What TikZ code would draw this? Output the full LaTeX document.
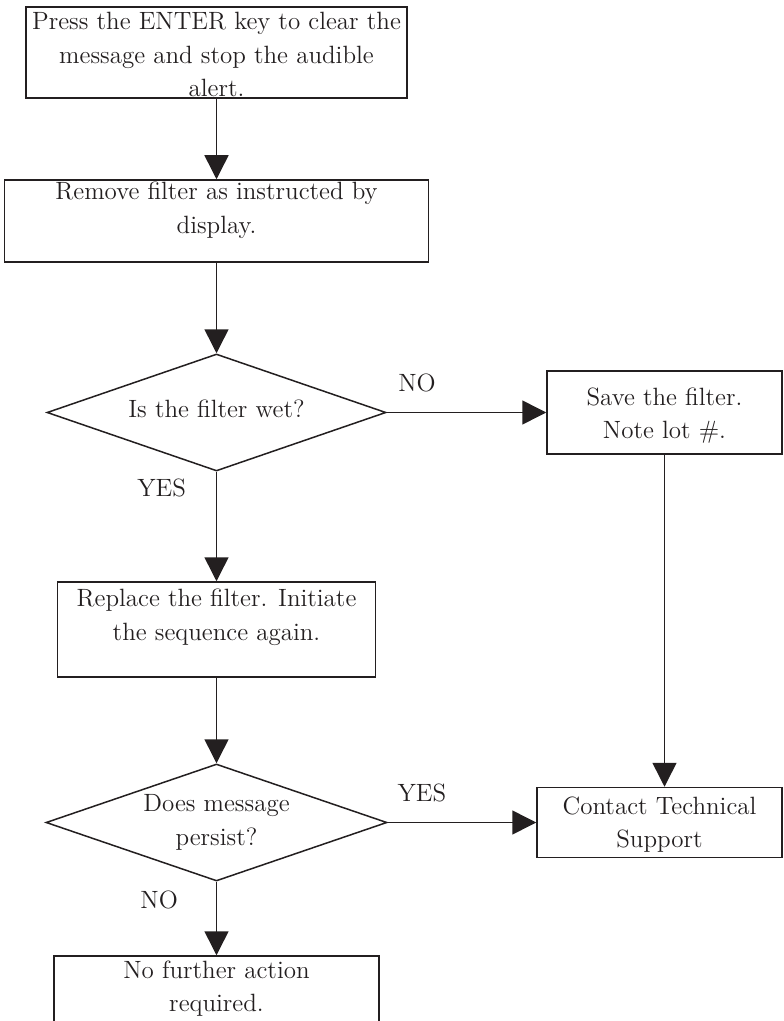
\documentclass[tikz,border=0pt]{standalone}
\usepackage{tikz}
\usetikzlibrary{arrows.meta,shapes.geometric}
\definecolor{ink}{RGB}{35,31,32}

\begin{document}
\begin{tikzpicture}[->,>={Triangle[length=12pt,width=12pt]},x=0.5pt,y=-0.5pt,line width=0.75pt,color=ink,font=\fontsize{12.5pt}{16.75pt}\selectfont]
		\tikzstyle{block}=[rectangle,draw=ink,fill=white,align=center,inner sep=0pt]
		\tikzstyle{decision}=[diamond,draw=ink,fill=white,align=center,inner sep=0pt,shape aspect=2.9,minimum width=169.5pt,minimum height=58.5pt]
		\path[use as bounding box,fill=white] (0,0) rectangle (783,1021);
		\node[block,minimum width=190.5pt,text height=44.85pt,text depth=0.65pt] (press) at (216.5,52.5) {Press the ENTER key to clear the\\message and stop the audible\\alert.};
		\node[block,minimum width=212pt,text height=26.75pt,text depth=14.25pt] (remove) [node distance=84.25pt,below of=press] {Remove filter as instructed by\\display.};
		\node[decision,text height=8pt,text depth=3pt] (wet) [node distance=95.75pt,below of=remove] {Is the filter wet?};
		\node[block,minimum width=117.5pt,text height=33.75pt,text depth=7.75pt] (save) [node distance=224pt,right of=wet] {Save the filter.\\Note lot \#.};
		\node[block,minimum width=159pt,text height=29pt,text depth=18.5pt] (replace) [node distance=108.5pt,below of=wet] {Replace the filter. Initiate\\the sequence again.};
		\node[decision,minimum width=170.5pt] (persist) [node distance=96.5pt,below of=replace] {Does message\\persist?};
		\node[block,minimum width=122.5pt,text height=30pt,text depth=5pt] (contact) [node distance=221.5pt,right of=persist] {Contact Technical\\Support};
		\node[block,minimum width=162.5pt,text height=27.75pt,text depth=17.25pt] (final) [node distance=89.25pt,below of=persist] {No further action\\required.};
		\path
		(press) edge (remove)
		(remove) edge (wet)
		(wet) edge node[pos=0.19,above=6.5pt] {NO} (save)
			edge node[pos=0.15,left=11.6pt] {YES} (replace)
		(save.south) edge (save.south |- contact.north)
		(replace) edge (persist)
		(persist) edge node[pos=0.23,above=6.5pt] {YES} (contact)
			edge node[pos=0.25,left=15.6pt] {NO} (final);
\end{tikzpicture}
\end{document}
